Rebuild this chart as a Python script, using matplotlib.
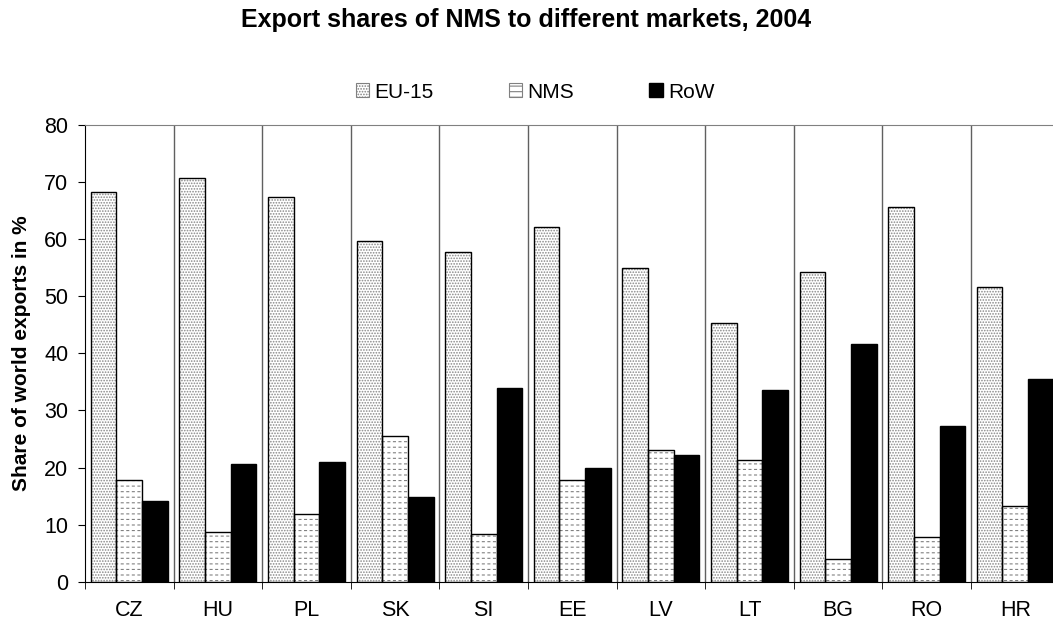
import numpy as np
import matplotlib.pyplot as plt
from matplotlib.patches import Patch

plt.rcParams['font.family'] = ['Liberation Sans', 'DejaVu Sans']

countries = ["CZ", "HU", "PL", "SK", "SI", "EE", "LV", "LT", "BG", "RO", "HR"]
eu15 = [68.3, 70.8, 67.4, 59.7, 57.7, 62.2, 55.0, 45.3, 54.2, 65.6, 51.7]
nms = [17.8, 8.7, 11.8, 25.6, 8.3, 17.8, 23.0, 21.3, 4.0, 7.9, 13.2]
row = [14.1, 20.6, 20.9, 14.9, 34.0, 20.0, 22.2, 33.6, 41.7, 27.2, 35.5]

fig = plt.figure(figsize=(10.53, 6.24), dpi=100)
ax = fig.add_axes([85/1053, 42.3/624, 974.6/1053, 456.7/624])

x = np.arange(len(countries))
w = 0.29

# hatched fills first, black outlines on top
plt.rcParams['hatch.linewidth'] = 0.8
ax.bar(x - w, eu15, w, color='white', edgecolor='#888888', linewidth=0, hatch='......', zorder=2)
ax.bar(x, nms, w, color='white', edgecolor='#808080', linewidth=0, hatch='---', zorder=2)
# break the NMS lines into dashes
plt.rcParams['hatch.linewidth'] = 1.8
ax.bar(x, nms, w, fill=False, edgecolor='white', linewidth=0, hatch='|||', zorder=2.5)
plt.rcParams['hatch.linewidth'] = 0.8
ax.bar(x - w, eu15, w, fill=False, edgecolor='black', linewidth=1, zorder=3)
ax.bar(x, nms, w, fill=False, edgecolor='black', linewidth=1, zorder=3)
ax.bar(x + w, row, w, color='black', edgecolor='black', linewidth=1, zorder=3)

# category separators
for b in np.arange(0.5, len(countries) - 0.5, 1):
    ax.axvline(b, color='#606060', linewidth=1, zorder=1)

ax.set_xlim(-0.5, len(countries) - 0.5)
ax.set_ylim(0, 80)
ax.set_yticks(range(0, 81, 10))
ax.set_xticks(x)
ax.set_xticklabels(countries)
ax.set_xticks(np.arange(-0.5, len(countries), 1), minor=True)
ax.tick_params(axis='x', which='major', length=0, pad=13, labelsize=15.5)
ax.tick_params(axis='x', which='minor', length=5, direction='out', color='black')
ax.tick_params(axis='y', length=5, direction='out', labelsize=15.5, pad=7)

ax.spines['top'].set_color('#808080')
ax.spines['right'].set_visible(False)
ax.spines['left'].set_color('black')
ax.spines['bottom'].set_color('black')

fig.text(22/1053, 271/624, "Share of world exports in %", rotation=90, fontsize=15,
         fontweight='bold', ha='center', va='center')

fig.text(0.5, 1 - 27/624, "Export shares of NMS to different markets, 2004", fontsize=18,
         fontweight='bold', ha='center', va='baseline')

handles = [
    Patch(facecolor='white', edgecolor='#808080', hatch='......', linewidth=0.8),
    Patch(facecolor='white', edgecolor='#808080', hatch='---', linewidth=0.8),
    Patch(facecolor='black', edgecolor='black'),
]
fig.legend(handles, ["EU-15", "NMS", "RoW"], loc='center', bbox_to_anchor=(535/1053, 1 - 92/624),
           ncol=3, frameon=False, fontsize=15, handlelength=0.65, handleheight=0.65,
           handletextpad=0.25, columnspacing=3.6)

fig.savefig("out.png", dpi=100)
